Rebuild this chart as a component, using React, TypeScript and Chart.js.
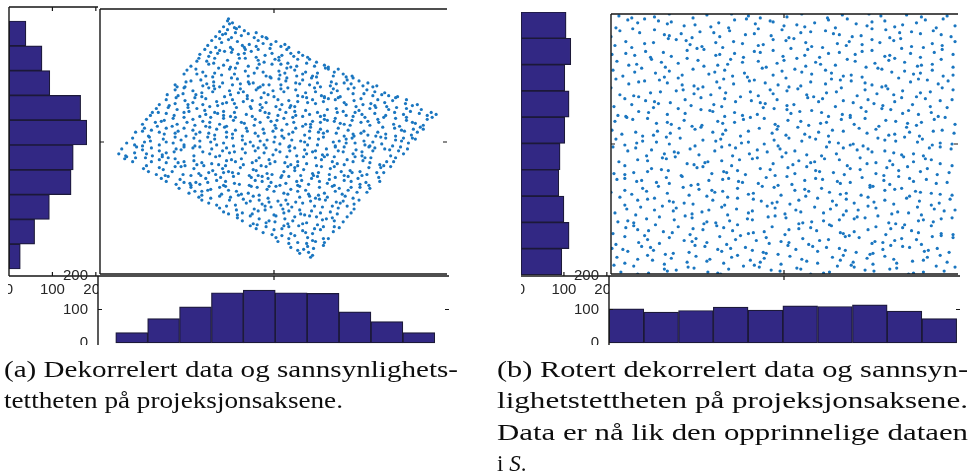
import { useEffect, useRef } from "react";
import { Chart, registerables } from "chart.js";

Chart.register(...registerables);

// ---------------------------------------------------------------------------
// Data
// ---------------------------------------------------------------------------

// Count axis shared by all marginal histograms
const countTicks = [0, 100, 200];
const countAxisMax = 205;
const histValueMin = -6;
const histValueMax = 200;

// (a) Decorrelated data
const decorrXMax = 351;
const decorrYMax = 269;
const decorrRowCentres = [242.6, 217.8, 193.0, 168.2, 143.4, 118.6, 93.8, 69.0, 44.2, 19.4];
const decorrRowCounts = [39, 76, 94, 165, 179, 148, 143, 93, 59, 26];
const decorrColCentres = [33.7, 65.6, 97.5, 129.4, 161.3, 193.2, 225.1, 257.0, 288.9, 320.8];
const decorrColCounts = [31, 73, 108, 150, 158, 150, 148, 93, 64, 31];
const decorrCentreX = [176];
const decorrCentreY = [134];

// (b) Rotated decorrelated data
const rotatedXMax = 351;
const rotatedYMax = 264;
const rotatedRowCentres = [250.9, 224.6, 198.3, 172.0, 145.7, 119.4, 93.1, 66.8, 40.5, 14.2];
const rotatedRowCounts = [105, 116, 102, 112, 102, 91, 88, 100, 112, 95];
const rotatedColCentres = [17.4, 52.2, 86.9, 121.7, 156.5, 191.2, 226.0, 260.8, 295.5, 330.3];
const rotatedColCounts = [102, 92, 97, 107, 98, 111, 109, 114, 95, 73];
const rotatedCentreX = [175];
const rotatedCentreY = [132];

// Scatter samples, stored as x, y pairs
const decorrelatedXY = [
  213,17,215,19,200,24,202,21,210,28,211,22,216,26,226,29,193,27,206,25,
  178,37,180,33,184,39,191,31,191,36,197,39,200,32,209,31,210,37,215,34,218,33,226,36,227,32,231,36,
  152,49,158,46,165,42,168,48,174,40,176,45,184,46,186,49,191,48,193,41,201,49,205,44,208,42,215,41,217,46,223,45,226,48,236,43,237,48,242,47,
  139,57,144,54,152,59,155,51,159,50,161,56,168,52,171,54,177,53,178,59,187,56,190,51,195,54,197,58,205,51,209,52,212,59,219,58,220,50,225,55,229,56,235,57,237,54,246,53,250,58,
  121,67,125,63,128,69,130,61,138,65,139,60,144,62,154,61,156,66,160,64,167,69,167,65,173,68,176,60,185,66,186,62,191,64,194,68,202,65,203,61,207,60,214,64,217,69,223,62,225,68,233,63,235,69,240,61,241,67,250,69,254,62,257,66,
  100,78,103,75,110,72,112,77,118,70,121,79,131,75,132,78,137,70,145,76,148,72,152,74,155,79,161,75,164,71,170,77,171,73,180,74,183,70,188,75,190,71,198,73,202,78,205,72,212,79,213,74,218,77,222,76,228,75,230,78,239,73,243,72,246,74,248,79,256,77,257,71,262,75,
  80,87,90,82,92,88,96,84,103,84,103,80,109,85,112,86,121,88,123,81,127,89,130,85,138,84,140,80,143,81,150,82,153,89,159,88,161,80,169,86,171,89,176,84,178,89,186,82,190,81,193,86,200,84,202,89,208,85,211,81,221,80,222,88,227,82,235,89,238,84,242,87,245,81,251,85,254,88,260,83,263,88,270,83,273,87,
  62,97,67,94,69,99,77,91,81,96,85,93,91,92,92,90,97,93,101,91,107,97,109,93,118,95,122,98,125,90,127,94,135,99,136,92,141,91,151,90,153,98,157,95,164,99,164,94,170,97,173,93,182,90,183,98,188,92,191,99,199,94,200,90,204,95,211,91,214,97,220,99,222,94,230,92,232,96,237,90,238,98,247,95,251,99,254,94,261,97,263,91,269,93,272,90,282,98,283,94,
  44,107,49,104,57,101,60,108,64,106,66,100,73,104,76,109,82,109,84,101,92,100,95,107,100,102,102,100,110,103,114,105,117,101,124,107,125,103,130,104,134,103,140,102,142,108,151,100,155,106,158,105,160,100,168,109,169,102,174,101,184,100,186,104,190,109,197,105,197,108,203,100,206,106,215,102,216,100,221,103,224,109,232,101,233,107,237,109,244,104,247,100,253,105,255,103,263,104,265,100,270,101,272,108,280,103,284,108,287,103,294,109,
  25,117,27,119,33,114,36,118,46,118,47,110,52,114,60,116,63,119,67,113,69,118,76,117,79,113,85,114,86,110,95,115,98,111,103,113,105,110,113,112,117,119,120,111,127,110,128,115,133,116,137,114,143,117,145,111,154,113,158,115,161,118,163,110,171,116,172,112,177,114,187,113,189,119,193,111,200,110,200,114,206,119,209,112,218,118,219,110,224,116,227,119,235,114,237,119,240,112,247,111,250,116,256,114,258,119,266,115,268,118,273,113,274,118,283,111,287,110,290,114,297,114,299,118,
  19,122,22,127,26,120,35,123,37,129,43,126,47,122,52,128,53,120,60,125,63,121,67,123,75,124,77,127,82,126,85,129,94,128,95,120,101,129,104,124,111,122,113,127,121,120,124,125,128,128,131,123,136,124,144,127,147,123,157,125,160,128,166,123,168,128,175,121,178,126,182,124,191,129,192,125,197,128,199,120,207,126,209,122,215,124,218,125,225,121,229,127,230,121,238,129,241,125,246,124,247,129,256,122,259,126,265,120,265,124,272,129,276,125,278,128,288,127,293,126,294,120,302,125,304,129,307,122,311,127,
  27,133,33,138,35,131,43,130,45,134,50,139,51,135,60,131,64,137,67,134,74,133,76,139,82,136,85,131,95,138,96,130,101,135,109,139,112,134,116,137,118,131,125,133,128,139,134,138,135,130,144,136,147,132,152,134,155,130,162,135,166,131,169,136,176,134,177,139,182,132,186,138,192,130,194,136,203,135,207,134,210,131,212,138,220,131,221,137,226,139,236,134,238,130,242,135,249,133,249,137,255,138,258,133,267,135,268,131,273,130,276,134,284,139,285,132,289,138,296,130,299,136,305,135,307,138,312,133,316,138,319,137,
  36,144,43,145,45,148,49,140,52,146,60,144,65,142,67,148,76,143,79,145,85,148,87,140,94,146,97,142,101,144,110,143,111,149,116,141,118,147,126,149,128,144,134,142,137,146,144,140,148,148,149,145,157,143,160,140,165,147,166,143,175,145,178,148,184,140,184,146,191,142,195,144,198,148,207,141,212,145,213,149,221,144,223,147,226,143,230,145,239,143,241,148,247,140,251,146,256,142,257,140,264,143,267,145,271,141,279,140,281,144,286,149,289,142,298,148,299,140,305,146,308,145,315,141,317,147,321,144,324,149,327,147,
  43,152,47,157,56,154,58,150,62,155,65,156,73,150,74,158,78,152,85,159,88,154,94,157,96,151,104,155,107,150,111,154,112,159,121,152,125,158,128,150,135,156,137,159,143,154,146,153,156,151,157,157,162,154,170,159,173,155,177,151,179,156,186,158,189,152,195,159,196,154,205,150,208,152,213,152,215,155,223,154,227,157,230,156,237,155,238,158,243,153,247,152,253,151,255,156,264,154,268,159,271,155,273,151,281,157,282,154,287,159,297,152,299,158,303,150,310,156,310,159,316,154,319,153,327,151,331,157,336,159,
  51,161,53,164,57,168,59,164,67,163,69,169,75,161,78,167,85,164,89,169,90,165,98,168,101,160,106,166,107,162,116,164,119,163,125,165,125,161,132,160,136,164,138,169,148,162,153,168,154,160,162,166,164,169,167,164,171,163,180,161,182,167,188,164,192,169,197,165,198,161,205,160,208,166,212,162,220,164,223,160,227,161,230,167,239,168,240,164,246,165,249,161,256,160,258,164,262,166,265,162,273,168,278,163,279,169,289,161,292,167,298,164,300,169,307,162,310,168,314,165,323,163,325,167,331,161,335,164,340,162,
  60,172,67,177,70,171,76,173,77,179,86,176,89,172,94,174,96,179,104,172,107,178,111,170,118,175,119,171,124,173,128,174,134,177,136,173,145,175,149,178,152,170,154,176,162,172,163,179,168,174,178,170,180,177,184,172,191,176,193,171,197,170,200,175,209,179,210,174,215,177,218,173,226,175,227,179,231,178,238,177,241,179,247,174,249,172,257,176,259,170,264,178,266,172,274,173,278,171,281,177,288,174,290,170,296,176,299,179,309,173,310,177,316,171,321,172,
  68,182,76,187,79,181,84,183,85,189,94,186,97,182,103,184,103,180,110,189,114,185,116,188,126,180,131,186,132,182,140,184,142,188,145,185,149,181,158,187,160,189,166,184,170,182,175,186,176,180,183,188,186,185,190,189,198,187,200,181,205,180,208,184,217,189,218,185,224,181,227,180,234,184,236,188,240,186,243,180,251,188,256,183,257,189,267,183,270,187,276,181,278,185,285,182,288,184,292,181,301,180,
  76,192,78,190,86,190,87,195,92,196,102,197,104,191,108,193,115,195,115,191,121,190,124,194,133,199,134,192,139,198,142,193,150,195,151,193,155,194,162,190,165,192,171,192,173,199,181,198,183,192,188,196,189,199,198,194,202,193,205,197,212,192,214,199,220,194,223,190,233,191,234,195,239,193,247,194,250,197,254,193,256,199,262,196,266,191,271,194,276,190,280,191,
  85,203,88,207,97,208,98,203,104,205,107,201,114,200,116,204,120,209,123,202,131,208,136,203,137,209,147,206,150,201,156,204,159,209,165,205,168,201,172,200,181,206,182,202,187,204,189,209,197,207,199,201,205,203,208,205,215,201,219,200,220,204,228,209,231,208,236,201,237,205,246,203,249,200,255,201,241,208,
  92,211,98,216,100,219,108,216,110,213,115,214,116,219,125,212,129,217,132,210,139,214,141,219,147,219,150,211,160,217,161,213,166,215,174,213,177,218,181,217,183,213,190,214,193,210,199,211,200,218,209,214,212,218,217,211,219,215,227,212,231,210,
  101,223,106,228,110,221,112,225,119,224,121,227,126,226,133,225,134,228,140,223,146,224,147,228,153,226,158,220,160,228,167,222,172,229,174,224,181,220,184,222,189,228,193,224,196,221,201,225,205,222,210,220,
  109,232,113,237,117,230,121,239,123,235,130,238,132,230,139,236,144,232,146,230,151,233,158,231,160,237,165,234,169,239,173,233,178,236,183,231,187,233,191,230,
  117,241,121,246,124,243,129,248,133,240,137,245,143,242,146,247,150,244,156,240,158,245,164,241,168,240,138,249,127,244,
  125,251,131,254,136,250,141,251,129,257,134,255,130,259,
];

const rotatedXY = [
  3,9,10,2,23,8,27,0,38,1,54,5,57,3,66,4,78,7,84,6,98,2,108,1,111,0,119,5,134,8,145,9,150,7,162,4,171,3,188,6,192,5,202,0,215,1,221,2,229,8,243,9,246,7,257,4,266,3,282,5,289,6,301,0,306,1,316,2,329,8,337,3,348,7,
  6,17,14,11,27,15,37,19,42,14,54,10,61,16,77,12,86,18,97,13,100,15,114,11,122,17,128,19,141,14,151,12,155,16,172,10,181,18,193,15,198,13,209,11,224,17,232,14,235,19,245,12,259,16,265,10,277,18,286,15,289,11,305,13,316,14,320,17,333,19,340,12,
  1,26,12,25,17,23,31,28,40,27,43,24,55,20,63,21,79,22,85,29,95,28,108,25,112,23,121,26,136,27,143,24,154,22,157,21,169,20,179,29,187,25,204,28,209,23,218,27,231,26,237,24,248,22,262,20,265,21,275,25,283,29,295,28,302,27,317,23,321,24,330,26,342,22,
  5,30,14,38,28,32,34,39,37,35,49,31,59,37,74,34,82,33,86,36,97,32,110,38,117,30,126,35,131,39,147,34,157,37,160,31,172,33,180,32,194,36,200,30,211,34,220,35,237,38,241,39,251,37,264,31,267,33,275,32,287,34,294,36,309,35,314,30,325,38,334,39,346,37,
  2,41,15,47,23,49,27,45,38,44,53,43,62,42,68,48,80,40,83,46,93,45,107,49,114,47,123,44,139,41,144,42,155,43,163,48,176,40,180,45,190,46,202,47,208,44,223,49,232,42,235,41,246,43,260,45,268,48,278,40,283,46,295,47,304,44,311,42,324,49,334,41,346,40,
  7,53,17,54,23,52,36,56,45,50,49,58,64,55,75,59,82,57,94,51,97,53,106,52,120,54,128,50,138,56,143,55,159,58,166,59,177,57,190,51,194,52,203,53,215,54,221,50,231,55,246,56,249,58,257,57,270,59,281,52,288,51,297,50,311,54,316,55,326,53,334,56,345,57,
  4,62,16,66,25,60,30,68,44,65,52,69,63,64,66,67,82,61,92,63,99,65,112,68,118,60,127,66,139,62,143,64,158,69,166,67,176,61,187,65,192,63,206,68,215,62,222,66,235,60,238,64,250,65,260,69,268,67,284,61,290,63,301,62,310,68,314,60,327,66,337,64,348,65,
  9,78,14,70,27,75,37,76,44,77,59,74,63,73,74,72,83,71,97,79,103,75,115,70,118,78,128,77,144,76,152,74,163,72,168,73,181,71,190,75,197,79,209,77,224,74,228,70,238,76,246,72,260,78,266,73,277,75,286,71,299,77,302,79,312,74,324,70,332,72,343,76,
  0,83,14,85,21,81,32,87,36,84,48,89,57,82,73,88,79,80,89,86,102,85,105,83,113,84,128,87,139,81,144,82,153,89,165,88,172,80,186,85,196,86,200,84,213,87,221,83,232,81,238,82,253,80,262,88,265,89,277,85,287,86,294,87,308,84,313,83,324,82,333,81,345,80,
  6,96,14,97,26,94,31,95,46,93,56,98,59,92,72,99,81,90,88,91,99,95,113,96,119,97,129,94,133,93,149,92,157,98,169,90,178,99,183,91,196,95,207,97,214,96,229,94,232,92,242,93,254,98,262,90,276,95,282,91,291,99,302,97,306,94,319,96,329,92,340,93,
  3,102,14,101,23,103,37,104,41,107,51,106,58,105,71,100,87,108,93,109,102,102,114,104,117,103,128,105,136,101,151,107,161,106,166,100,179,108,186,102,198,109,207,105,211,104,225,103,236,101,242,107,252,106,268,102,276,100,279,108,291,105,300,109,313,104,320,107,330,101,342,103,
  8,114,14,110,27,116,37,115,52,118,56,117,65,119,77,112,84,111,95,113,98,114,112,115,122,110,130,116,143,117,148,118,164,112,173,119,184,111,190,115,202,113,206,114,216,117,231,116,239,110,252,118,259,112,268,113,282,115,285,111,296,119,306,114,318,117,324,116,333,112,345,110,
  2,129,17,125,25,128,36,120,41,126,54,122,64,124,68,123,80,127,89,121,105,125,112,129,123,120,126,128,140,122,148,126,158,124,171,127,177,123,186,125,198,121,213,120,218,129,228,122,235,128,249,126,260,127,264,124,277,125,286,123,294,121,306,122,316,120,322,128,333,129,344,127,
  5,137,14,131,26,133,32,135,46,134,56,139,59,132,70,138,85,130,93,136,106,135,111,137,120,131,132,133,139,134,155,132,165,136,169,130,180,138,193,135,201,139,207,137,221,134,230,133,242,131,245,132,255,130,270,138,277,136,288,135,297,139,310,134,315,137,325,131,333,133,345,132,
  1,146,11,142,25,144,32,140,43,141,47,145,60,143,69,148,85,147,91,149,103,144,113,142,116,146,131,140,139,145,150,148,163,143,168,147,177,141,189,149,196,142,210,144,220,140,224,146,235,145,251,148,259,143,268,147,281,141,287,142,299,149,302,144,312,140,326,145,335,146,347,143,
  4,155,16,159,22,157,37,158,46,153,57,154,61,152,74,156,82,150,92,151,108,155,113,153,125,154,134,157,141,159,155,158,166,152,169,150,179,156,192,155,200,151,212,153,218,154,233,157,242,159,246,152,257,158,271,150,278,156,288,155,300,153,309,151,314,154,327,157,338,159,348,152,
  7,161,15,160,28,165,38,164,43,169,57,162,68,168,75,163,91,167,100,166,103,165,115,160,125,164,133,161,148,162,154,169,165,168,178,167,182,163,191,165,203,166,213,164,220,160,234,162,242,161,253,169,258,165,274,168,283,167,295,163,301,166,311,162,324,164,331,160,340,169,
  3,170,14,178,21,172,35,176,44,175,48,173,60,174,75,177,81,171,91,179,104,172,112,170,115,178,126,175,142,176,151,174,156,173,168,177,178,171,185,172,199,179,210,175,214,178,227,170,235,176,245,174,260,177,266,173,275,171,287,175,294,179,305,172,318,178,323,170,333,176,345,177,
  0,189,9,182,23,181,28,180,40,184,50,185,66,186,73,187,84,183,88,188,101,182,110,189,116,184,131,180,141,185,149,181,161,187,164,183,178,186,189,188,198,182,205,180,218,184,228,185,233,189,249,181,257,187,269,183,280,188,286,182,295,186,309,180,313,184,323,185,335,189,346,187,
  5,198,18,193,28,195,34,196,49,197,57,194,68,199,72,192,84,191,93,190,107,195,114,198,124,193,140,196,145,197,156,194,169,192,177,199,180,190,192,191,202,195,217,193,223,198,232,197,243,196,257,194,264,192,274,190,278,191,291,199,303,195,311,198,320,197,331,193,341,196,
  2,207,12,201,24,205,31,209,45,204,54,200,59,206,72,202,83,208,99,203,105,205,115,207,123,201,135,204,138,200,153,209,164,202,173,206,186,208,193,205,203,203,217,207,223,204,235,201,243,202,254,200,270,209,274,208,284,205,297,206,306,203,313,204,325,207,336,201,346,202,
  6,216,18,212,26,213,41,218,51,215,55,210,68,214,77,219,88,217,94,211,108,212,118,213,121,218,133,215,149,216,157,210,168,214,175,217,188,219,197,211,207,215,212,213,227,212,239,218,247,216,258,210,267,214,281,217,287,219,297,215,310,211,314,212,325,213,334,218,346,210,
  1,223,15,224,24,222,35,226,40,220,53,225,61,221,77,227,87,229,94,228,106,222,110,223,125,224,134,220,145,226,151,225,164,227,174,221,182,229,196,222,199,228,211,220,220,224,231,225,247,223,254,226,264,227,277,221,282,222,294,229,303,224,313,220,327,225,335,228,346,223,
  4,232,15,236,21,230,34,234,43,235,58,239,66,238,76,237,80,233,92,231,106,235,113,230,124,236,133,234,149,232,154,233,164,238,177,237,185,239,197,235,203,231,214,230,229,234,238,232,241,236,254,233,264,238,272,235,286,237,293,239,304,231,316,230,325,234,335,232,348,236,
  0,241,9,247,22,249,29,245,44,248,54,243,59,242,71,244,82,240,90,246,104,245,110,241,120,247,136,243,145,244,149,249,162,242,173,248,180,240,192,245,202,246,217,247,225,244,231,243,244,241,253,242,264,249,278,248,282,240,292,245,304,246,313,244,326,247,334,243,344,241,
  5,250,17,258,27,255,34,259,48,257,57,254,61,256,74,252,85,253,101,251,109,255,119,250,125,258,137,259,146,254,161,257,164,256,175,252,188,253,196,251,206,255,220,258,227,250,239,259,248,254,259,252,264,256,277,257,287,251,295,253,309,255,318,258,329,250,336,259,348,252,
  8,262,21,260,44,261,59,264,83,260,97,263,122,264,139,262,151,260,178,261,193,264,219,260,234,263,261,264,273,262,299,263,314,261,340,262,
];

// Figure captions
const captionA = ["(a) Dekorrelert data og sannsynlighets-", "tettheten på projeksjonsaksene."];
const captionB = [
  "(b) Rotert dekorrelert data og sannsyn-",
  "lighetstettheten på projeksjonsaksene.",
  "Data er nå lik den opprinnelige dataen",
];

// ---------------------------------------------------------------------------
// Styling
// ---------------------------------------------------------------------------

const BAR_FILL = "#322884";
const BAR_EDGE = "#1c1939";
const DOT = "#1a76c0";
const AXIS_INK = "#161616";
const LABEL_INK = "#262626";
const TICK_FONT = { family: "'Liberation Sans', Arial, sans-serif", size: 15 };
const CAPTION_FONT = "'Liberation Serif', 'Times New Roman', serif";

type Edges = { l: number; t: number; r: number; b: number };
type MarkSpec = { axis: string; values: number[]; sides: string };
type FrameSpec = { sides: string; marks: MarkSpec[]; fill?: boolean };

function toPoints(flat: number[]) {
  const out: { x: number; y: number }[] = [];
  for (let i = 0; i + 1 < flat.length; i += 2) out.push({ x: flat[i], y: flat[i + 1] });
  return out;
}

// Axes box with inward-pointing tick marks (drawn from the chart's own scales)
function makeFrame(spec: FrameSpec) {
  return {
    id: "frame",
    beforeDraw(chart: any) {
      if (!spec.fill) return;
      const { ctx, chartArea: a } = chart;
      ctx.save();
      ctx.fillStyle = "#ffffff";
      ctx.fillRect(a.left, a.top, a.right - a.left, a.bottom - a.top);
      ctx.restore();
    },
    afterDraw(chart: any) {
      const { ctx, chartArea: a } = chart;
      ctx.save();
      ctx.strokeStyle = AXIS_INK;
      ctx.lineWidth = 1.4;
      ctx.beginPath();
      if (spec.sides.includes("t")) { ctx.moveTo(a.left, a.top); ctx.lineTo(a.right, a.top); }
      if (spec.sides.includes("b")) { ctx.moveTo(a.left, a.bottom); ctx.lineTo(a.right, a.bottom); }
      if (spec.sides.includes("l")) { ctx.moveTo(a.left, a.top); ctx.lineTo(a.left, a.bottom); }
      if (spec.sides.includes("r")) { ctx.moveTo(a.right, a.top); ctx.lineTo(a.right, a.bottom); }
      ctx.stroke();
      const len = 4;
      ctx.lineWidth = 1.2;
      ctx.beginPath();
      for (const m of spec.marks) {
        const scale = chart.scales[m.axis];
        for (const v of m.values) {
          const p = scale.getPixelForValue(v);
          for (const s of m.sides) {
            if (s === "t") { ctx.moveTo(p, a.top); ctx.lineTo(p, a.top + len); }
            if (s === "b") { ctx.moveTo(p, a.bottom); ctx.lineTo(p, a.bottom - len); }
            if (s === "l") { ctx.moveTo(a.left, p); ctx.lineTo(a.left + len, p); }
            if (s === "r") { ctx.moveTo(a.right, p); ctx.lineTo(a.right - len, p); }
          }
        }
      }
      ctx.stroke();
      ctx.restore();
    },
  };
}

const baseOptions = {
  responsive: false,
  animation: false as const,
  devicePixelRatio: 1,
  events: [] as any[],
};
const quietPlugins = { legend: { display: false }, tooltip: { enabled: false } };

const barStyle = {
  backgroundColor: BAR_FILL,
  borderColor: BAR_EDGE,
  borderWidth: 1.2,
  borderSkipped: false as const,
  barPercentage: 1,
  categoryPercentage: 1,
};

const setCountTicks = (s: any) => {
  s.ticks = countTicks.map((v) => ({ value: v }));
};
// Bin centres double as the ticks of the (hidden) bin axis, so bars span a full bin
const binTicks = (centres: number[]) => (s: any) => {
  s.ticks = centres.map((v) => ({ value: v }));
};

// Marginal histogram of the vertical coordinate, bars growing to the right
function rowHistConfig(centres: number[], counts: number[], yMax: number, m: Edges, frame: FrameSpec) {
  return {
    type: "bar" as const,
    data: { datasets: [{ ...barStyle, data: centres.map((c, i) => ({ x: counts[i], y: c })) }] },
    options: {
      ...baseOptions,
      indexAxis: "y" as const,
      layout: { padding: { left: m.l, top: m.t, right: m.r, bottom: 0 } },
      scales: {
        y: {
          type: "linear" as const,
          min: 0,
          max: yMax,
          offset: false,
          display: false,
          afterBuildTicks: binTicks(centres),
        },
        x: {
          type: "linear" as const,
          position: "bottom" as const,
          min: 0,
          max: countAxisMax,
          grid: { display: false, drawTicks: false },
          border: { display: false },
          ticks: { font: TICK_FONT, color: LABEL_INK, padding: 5, autoSkip: false, maxRotation: 0 },
          afterBuildTicks: setCountTicks,
          afterFit: (s: any) => { s.height = m.b; s.paddingLeft = 0; s.paddingRight = 0; },
        },
      },
      plugins: quietPlugins,
    },
    plugins: [makeFrame(frame)],
  };
}

// Marginal histogram of the horizontal coordinate
function colHistConfig(centres: number[], counts: number[], xMax: number, m: Edges, frame: FrameSpec) {
  return {
    type: "bar" as const,
    data: { datasets: [{ ...barStyle, data: centres.map((c, i) => ({ x: c, y: counts[i] })) }] },
    options: {
      ...baseOptions,
      layout: { padding: { left: 0, top: m.t, right: m.r, bottom: m.b } },
      scales: {
        x: {
          type: "linear" as const,
          min: 0,
          max: xMax,
          offset: false,
          display: false,
          afterBuildTicks: binTicks(centres),
        },
        y: {
          type: "linear" as const,
          position: "left" as const,
          min: histValueMin,
          max: histValueMax,
          grid: { display: false, drawTicks: false },
          border: { display: false },
          ticks: { font: TICK_FONT, color: LABEL_INK, padding: 10 },
          afterBuildTicks: setCountTicks,
          afterFit: (s: any) => { s.width = m.l; s.paddingTop = 0; s.paddingBottom = 0; },
        },
      },
      plugins: quietPlugins,
    },
    plugins: [makeFrame(frame)],
  };
}

function scatterConfig(flat: number[], xMax: number, yMax: number, m: Edges, frame: FrameSpec) {
  return {
    type: "scatter" as const,
    data: {
      datasets: [{
        data: toPoints(flat),
        pointRadius: 1.6,
        pointBackgroundColor: DOT,
        pointBorderWidth: 0,
        clip: 0,
      }],
    },
    options: {
      ...baseOptions,
      layout: { padding: { left: m.l, top: m.t, right: m.r, bottom: m.b } },
      scales: {
        x: { type: "linear" as const, min: 0, max: xMax, display: false },
        y: { type: "linear" as const, min: 0, max: yMax, display: false },
      },
      plugins: quietPlugins,
    },
    plugins: [makeFrame(frame)],
  };
}

function Plot({ area, margin, config }: { area: Edges; margin: Edges; config: () => any }) {
  const ref = useRef<HTMLCanvasElement>(null);
  const width = area.r - area.l + margin.l + margin.r;
  const height = area.b - area.t + margin.t + margin.b;
  useEffect(() => {
    const chart = new Chart(ref.current as HTMLCanvasElement, config());
    return () => chart.destroy();
  }, []);
  return (
    <canvas
      ref={ref}
      width={width}
      height={height}
      style={{ position: "absolute", left: area.l - margin.l, top: area.t - margin.t, width, height }}
    />
  );
}

// One scatter plot with its two marginal histograms
function ScatterHist(props: {
  rowArea: Edges; rowMargin: Edges; rowSides: string; rowTickSides: string;
  mainArea: Edges; colArea: Edges;
  points: number[]; xMax: number; yMax: number; centreX: number[]; centreY: number[];
  rowCentres: number[]; rowCounts: number[]; colCentres: number[]; colCounts: number[];
}) {
  const p = props;
  const mainMargin = { l: 2, t: 2, r: 2, b: 2 };
  const colMargin = { l: 52, t: 12, r: 2, b: 0 };
  return (
    <>
      <Plot
        area={p.mainArea}
        margin={mainMargin}
        config={() =>
          scatterConfig(p.points, p.xMax, p.yMax, mainMargin, {
            sides: "tlb",
            marks: [
              { axis: "x", values: p.centreX, sides: "tb" },
              { axis: "y", values: p.centreY, sides: "lr" },
            ],
          })
        }
      />
      <Plot
        area={p.rowArea}
        margin={p.rowMargin}
        config={() =>
          rowHistConfig(p.rowCentres, p.rowCounts, p.yMax, p.rowMargin, {
            sides: p.rowSides,
            marks: [{ axis: "x", values: countTicks.slice(1), sides: p.rowTickSides }],
          })
        }
      />
      <Plot
        area={p.colArea}
        margin={colMargin}
        config={() =>
          colHistConfig(p.colCentres, p.colCounts, p.xMax, colMargin, {
            sides: "tl",
            fill: true,
            marks: [
              { axis: "y", values: [countTicks[1]], sides: "lr" },
              { axis: "x", values: p.centreX, sides: "t" },
            ],
          })
        }
      />
    </>
  );
}

export default function App() {
  return (
    <div
      style={{
        position: "fixed",
        left: 0,
        top: 0,
        width: 971,
        height: 474,
        background: "#ffffff",
        overflow: "hidden",
      }}
    >
      <ScatterHist
        rowArea={{ l: 9, t: 7, r: 98, b: 276 }}
        rowMargin={{ l: 1, t: 3, r: 14, b: 24 }}
        rowSides="tlb"
        rowTickSides="tb"
        mainArea={{ l: 98, t: 7, r: 449, b: 276 }}
        colArea={{ l: 98, t: 276, r: 449, b: 345 }}
        points={decorrelatedXY}
        xMax={decorrXMax}
        yMax={decorrYMax}
        centreX={decorrCentreX}
        centreY={decorrCentreY}
        rowCentres={decorrRowCentres}
        rowCounts={decorrRowCounts}
        colCentres={decorrColCentres}
        colCounts={decorrColCounts}
      />
      <ScatterHist
        rowArea={{ l: 521, t: 12, r: 609, b: 276 }}
        rowMargin={{ l: 0, t: 2, r: 14, b: 24 }}
        rowSides="b"
        rowTickSides="b"
        mainArea={{ l: 609, t: 12, r: 960, b: 276 }}
        colArea={{ l: 609, t: 276, r: 960, b: 345 }}
        points={rotatedXY}
        xMax={rotatedXMax}
        yMax={rotatedYMax}
        centreX={rotatedCentreX}
        centreY={rotatedCentreY}
        rowCentres={rotatedRowCentres}
        rowCounts={rotatedRowCounts}
        colCentres={rotatedColCentres}
        colCounts={rotatedColCounts}
      />
      <svg
        width={971}
        height={474}
        style={{ position: "absolute", left: 0, top: 0, pointerEvents: "none" }}
      >
        <g fontFamily={CAPTION_FONT} fontSize={23} fill="#0d0d0d">
          <text x={4} y={377} textLength={454} lengthAdjust="spacingAndGlyphs">{captionA[0]}</text>
          <text x={4} y={408} textLength={339} lengthAdjust="spacingAndGlyphs">{captionA[1]}</text>
          <text x={497} y={377} textLength={471} lengthAdjust="spacingAndGlyphs">{captionB[0]}</text>
          <text x={497} y={408} textLength={471} lengthAdjust="spacingAndGlyphs">{captionB[1]}</text>
          <text x={497} y={440} textLength={471} lengthAdjust="spacingAndGlyphs">{captionB[2]}</text>
          <text x={497} y={471}>
            i <tspan fontStyle="italic">S</tspan>.
          </text>
        </g>
      </svg>
    </div>
  );
}
